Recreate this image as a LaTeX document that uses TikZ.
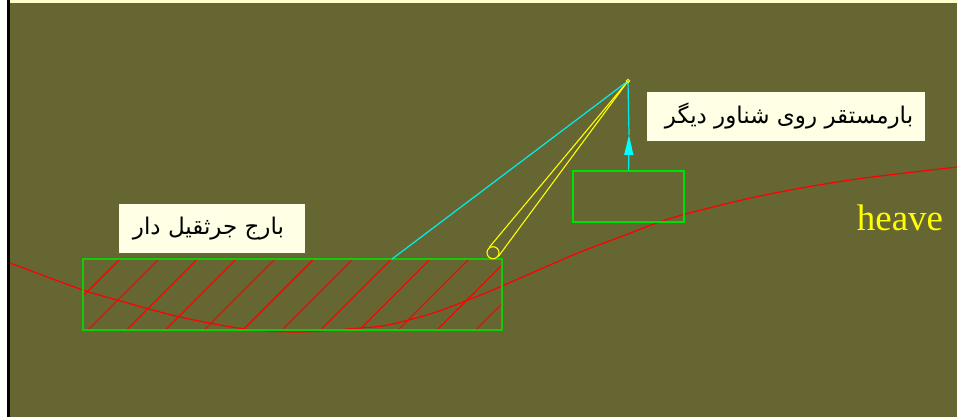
\documentclass[tikz,border=0pt]{standalone}
\usepackage{fontspec}
\setmainfont{Liberation Serif}
\newfontfamily\arabicfont[Script=Arabic]{DejaVu Sans}
\TeXXeTstate=1
\usetikzlibrary{arrows.meta}
\definecolor{deck}{HTML}{666633}
\definecolor{paper}{HTML}{FFFFE5}
\definecolor{strip}{HTML}{FFFFCC}
\definecolor{hullgreen}{HTML}{14C80A}
\definecolor{floatgreen}{HTML}{00E000}
\definecolor{wavered}{HTML}{FF0000}
\definecolor{cableblue}{HTML}{00EEEE}
\definecolor{tipcyan}{HTML}{00FFFF}
\definecolor{boomyellow}{HTML}{FFFF00}
\begin{document}
\begin{tikzpicture}[x=1pt,y=-1pt,
    hull/.style ={draw=hullgreen, line width=1.4pt, inner sep=0pt},
    caption/.style ={fill=paper, text=black, inner ysep=0pt, minimum height=49pt, font=\arabicfont\fontsize{23}{28}\selectfont},
    boom/.style ={draw=boomyellow, line width=1.1pt},
    cable/.style ={draw=cableblue, line width=1.2pt}]
   \useasboundingbox (0,0) rectangle (957,417);
   \fill[white] (0,0) rectangle (957,417);
   \fill[deck] (10,0) rectangle (957,417);
   \fill[black] (7,0) rectangle (10,417);
   \fill[strip] (10,0) rectangle (957,3.5);
   % hatching of the barge
   \begin{scope}
     \clip (83,259) rectangle (502,330);
     \foreach \xbot in {0,...,11}
       \draw[wavered, line width=1.1pt] ({49+38.8*\xbot},330) -- ({120+38.8*\xbot},259);
   \end{scope}
   % sea surface
   \draw[wavered, line width=1.2pt] plot[smooth, tension=0.5] coordinates {(10,263) (83,290) (117,300) (180,317) (245,329) (300,332)
     (360,328) (388,325) (430,314) (463,302) (502,286) (573,255) (620,237) (675,217) (760,196) (850,180) (957,167)};
   \node[hull, minimum width=419pt, minimum height=71pt] (barge) at (292.6,294.6) {};
   \node[hull, draw=floatgreen, minimum width=111pt, minimum height=51pt] (float) at (628.6,196.6) {};
   \coordinate (top) at (628,81);
   \coordinate (foot) at (392,259);
   \coordinate (tip) at (629,135);
   \node[circle, draw=boomyellow, line width=1.1pt, minimum size=12pt, inner sep=0pt] (pin) at (493,252.7) {};
   \draw[boom] (pin.125) -- (top);
   \draw[boom] (pin.-35) -- (top);
   \draw[cable] (foot) -- (top);
   \draw[cable] (tip) -- (top);
   \draw[cable, -{Triangle[length=20pt,width=9pt,fill=tipcyan,color=tipcyan]}] (float.north) -- (tip);
   \node[circle, draw=boomyellow, line width=0.9pt, minimum size=3.5pt, inner sep=0pt] (head) at (top) {};
   \node[caption, minimum width=186pt] (bargelabel) at (212,228.5) {\beginR بارج جرثقیل دار\endR\kern7pt};
   \node[caption, minimum width=278pt] (floatlabel) at (786,116.5) {\kern6pt\beginR بارمستقر روی شناور دیگر\endR};
   \node[text=boomyellow, font=\fontsize{37}{40}\selectfont, inner sep=0pt] (heave) at (900,218) {heave};
 \end{tikzpicture}
\end{document}
